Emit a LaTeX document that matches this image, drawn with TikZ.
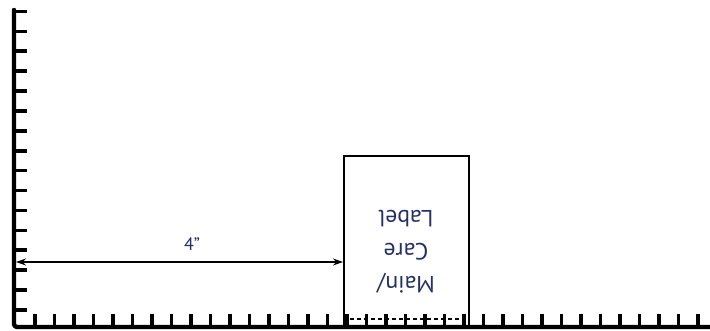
\documentclass[tikz,border=0pt]{standalone}
\usepackage{fontspec}
\setmainfont{PT Sans}
\usetikzlibrary{arrows.meta}
\definecolor{labelblue}{RGB}{36,48,100}
\tikzset{
  rulerline/.style={line width=4.4pt, line cap=round, line join=round, black},
  tick/.style={line width=3.6pt, black},
  boxline/.style={draw, line width=1.8pt, black},
  dimline/.style={line width=1.2pt, {Stealth[length=10pt,width=7pt]}-{Stealth[length=10pt,width=7pt]}},
  bluetext/.style={text=labelblue, inner sep=0pt}
}
\begin{document}
\begin{tikzpicture}[x=1pt,y=-1pt]
\useasboundingbox (0,0) rectangle (710,331);
% ruler
\draw[rulerline, rounded corners=3pt] (14,10) -- (14,327) -- (713,327);
\foreach \k in {0,...,15} {
  \draw[tick] (14,{11.5+19.9*\k}) -- (27,{11.5+19.9*\k});
}
\foreach \k in {0,...,34} {
  \draw[tick] ({35+19.5*\k},327) -- ({35+19.5*\k},314);
}
% main/care label box
\node[boxline, minimum width=125pt, minimum height=172pt, inner sep=0pt, anchor=north west] (box) at (343,155) {};
\draw[line width=1.8pt, dash pattern=on 4pt off 3pt] (box.south west) ++(0,-10) coordinate (dl) -- (dl -| box.east);
\node[bluetext, rotate=180, align=center, font=\fontsize{23.5}{33}\selectfont] (lbl) at (406,252) {Main/\\Care\\Label};
% dimension
\coordinate (ruleL) at (16,262);
\draw[dimline] (ruleL) -- (ruleL -| box.west);
\node[bluetext, font=\fontsize{18}{20}\selectfont] (dim) at (192,244) {4”};
\end{tikzpicture}
\end{document}
